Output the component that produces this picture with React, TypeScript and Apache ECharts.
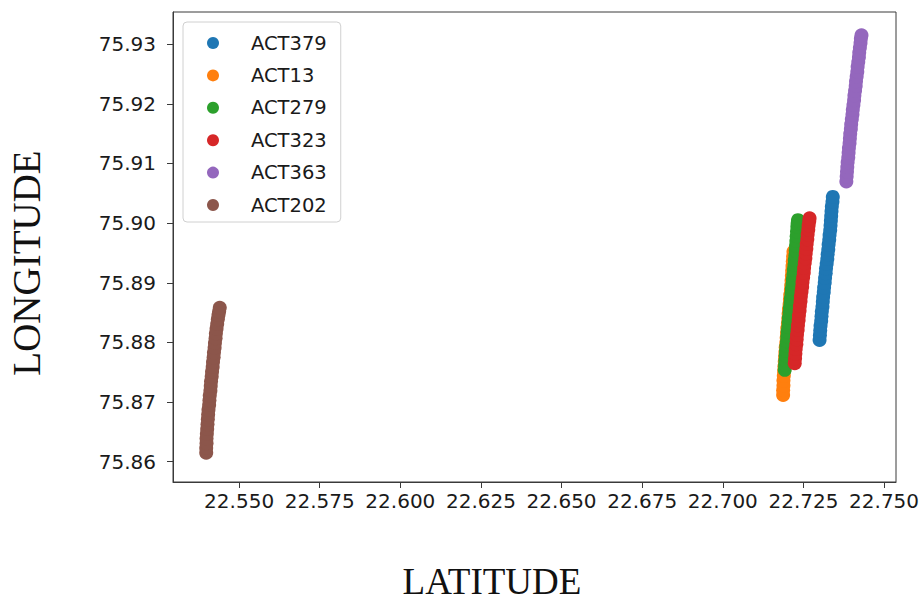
import React, { useEffect, useRef } from "react";
import * as echarts from "echarts";

// Track points per vehicle: [latitude, longitude]
const act379: number[][] = [
  [22.73, 75.8804], [22.7301, 75.8812], [22.7302, 75.882], [22.7303, 75.8828],
  [22.7305, 75.8836], [22.7306, 75.8844], [22.7307, 75.8852], [22.7309, 75.886],
  [22.731, 75.8868], [22.7311, 75.8876], [22.7313, 75.8884], [22.7314, 75.8892],
  [22.7316, 75.89], [22.7317, 75.8908], [22.7319, 75.8916], [22.732, 75.8924],
  [22.7322, 75.8932], [22.7324, 75.894], [22.7325, 75.8948], [22.7327, 75.8956],
  [22.7328, 75.8964], [22.733, 75.8972], [22.7331, 75.898], [22.7333, 75.8988],
  [22.7334, 75.8996], [22.7335, 75.9004], [22.7336, 75.9012], [22.7337, 75.902],
  [22.7338, 75.9028], [22.734, 75.9036], [22.7341, 75.9044],
];
const act13: number[][] = [
  [22.7187, 75.8712], [22.7187, 75.872], [22.7188, 75.8728], [22.7188, 75.8736],
  [22.7189, 75.8744], [22.719, 75.8752], [22.7191, 75.876], [22.7192, 75.8768],
  [22.7193, 75.8776], [22.7194, 75.8784], [22.7195, 75.8792], [22.7197, 75.88],
  [22.7198, 75.8808], [22.7199, 75.8816], [22.72, 75.8824], [22.7202, 75.8832],
  [22.7203, 75.884], [22.7204, 75.8848], [22.7205, 75.8856], [22.7207, 75.8864],
  [22.7208, 75.8872], [22.7209, 75.888], [22.7211, 75.8888], [22.7212, 75.8896],
  [22.7213, 75.8904], [22.7214, 75.8912], [22.7215, 75.892], [22.7216, 75.8928],
  [22.7217, 75.8936], [22.7218, 75.8944], [22.7219, 75.8952],
];
const act279: number[][] = [
  [22.7192, 75.8754], [22.7193, 75.8762], [22.7194, 75.877], [22.7195, 75.8778],
  [22.7196, 75.8786], [22.7197, 75.8794], [22.7199, 75.8802], [22.72, 75.881],
  [22.7201, 75.8818], [22.7203, 75.8826], [22.7204, 75.8834], [22.7205, 75.8842],
  [22.7207, 75.885], [22.7208, 75.8858], [22.721, 75.8866], [22.7211, 75.8874],
  [22.7213, 75.8882], [22.7214, 75.889], [22.7216, 75.8898], [22.7217, 75.8906],
  [22.7219, 75.8914], [22.722, 75.8922], [22.7222, 75.893], [22.7223, 75.8938],
  [22.7225, 75.8946], [22.7226, 75.8954], [22.7227, 75.8962], [22.7228, 75.897],
  [22.7229, 75.8978], [22.723, 75.8986], [22.7231, 75.8994], [22.7232, 75.9],
  [22.7233, 75.9005],
];
const act323: number[][] = [
  [22.7223, 75.8765], [22.7224, 75.8773], [22.7225, 75.8781], [22.7226, 75.8789],
  [22.7228, 75.8797], [22.7229, 75.8805], [22.723, 75.8813], [22.7232, 75.8821],
  [22.7233, 75.8829], [22.7235, 75.8837], [22.7236, 75.8845], [22.7238, 75.8853],
  [22.7239, 75.8861], [22.7241, 75.8869], [22.7242, 75.8877], [22.7244, 75.8885],
  [22.7246, 75.8893], [22.7247, 75.8901], [22.7249, 75.8909], [22.7251, 75.8917],
  [22.7252, 75.8925], [22.7254, 75.8933], [22.7256, 75.8941], [22.7257, 75.8949],
  [22.7259, 75.8957], [22.726, 75.8965], [22.7262, 75.8973], [22.7263, 75.8981],
  [22.7265, 75.8989], [22.7266, 75.8996], [22.7268, 75.9003], [22.7269, 75.9008],
];
const act363: number[][] = [
  [22.7383, 75.907], [22.7384, 75.9078], [22.7385, 75.9086], [22.7386, 75.9094],
  [22.7387, 75.9102], [22.7389, 75.911], [22.739, 75.9118], [22.7391, 75.9126],
  [22.7393, 75.9134], [22.7394, 75.9142], [22.7395, 75.915], [22.7397, 75.9158],
  [22.7398, 75.9166], [22.74, 75.9174], [22.7402, 75.9182], [22.7403, 75.919],
  [22.7405, 75.9198], [22.7407, 75.9206], [22.7408, 75.9214], [22.741, 75.9222],
  [22.7412, 75.923], [22.7413, 75.9238], [22.7415, 75.9246], [22.7417, 75.9254],
  [22.7418, 75.9262], [22.742, 75.927], [22.7422, 75.9278], [22.7423, 75.9286],
  [22.7425, 75.9294], [22.7427, 75.9302], [22.7428, 75.9309], [22.743, 75.9315],
];
const act202: number[][] = [
  [22.5398, 75.8615], [22.5398, 75.8623], [22.5399, 75.8631], [22.5399, 75.8639],
  [22.54, 75.8647], [22.5401, 75.8655], [22.5402, 75.8663], [22.5403, 75.8671],
  [22.5404, 75.8679], [22.5405, 75.8687], [22.5407, 75.8695], [22.5408, 75.8703],
  [22.5409, 75.8711], [22.5411, 75.8719], [22.5412, 75.8727], [22.5413, 75.8735],
  [22.5415, 75.8743], [22.5416, 75.8751], [22.5418, 75.8759], [22.5419, 75.8767],
  [22.5421, 75.8775], [22.5422, 75.8783], [22.5424, 75.8791], [22.5425, 75.8799],
  [22.5427, 75.8807], [22.5428, 75.8815], [22.543, 75.8823], [22.5432, 75.8831],
  [22.5434, 75.8839], [22.5436, 75.8846], [22.5438, 75.8852], [22.544, 75.8858],
];

const seriesNames = ["ACT379", "ACT13", "ACT279", "ACT323", "ACT363", "ACT202"];
const seriesData = [act379, act13, act279, act323, act363, act202];
const colors = ["#1f77b4", "#ff7f0e", "#2ca02c", "#d62728", "#9467bd", "#8c564b"];

const latTicks = [22.55, 22.575, 22.6, 22.625, 22.65, 22.675, 22.7, 22.725, 22.75];
const lonTicks = [75.86, 75.87, 75.88, 75.89, 75.9, 75.91, 75.92, 75.93];

const SANS = "DejaVu Sans";
const SERIF = "Liberation Serif";

export default function App() {
  const ref = useRef<HTMLDivElement>(null);

  useEffect(() => {
    if (!ref.current) return;
    const chart = echarts.init(ref.current, undefined, { renderer: "svg" });
    chart.setOption({
      animation: false,
      backgroundColor: "#ffffff",
      color: colors,
      grid: {
        left: 173,
        right: 28,
        top: 12,
        bottom: 118,
        show: true,
        borderColor: "#3a3a3a",
        borderWidth: 1,
      },
      legend: {
        data: seriesNames,
        orient: "vertical",
        left: 183,
        top: 22,
        padding: [10, 14, 6, 24],
        itemGap: 10.4,
        itemWidth: 66,
        itemHeight: 12,
        icon: "circle",
        backgroundColor: "rgba(255,255,255,0.85)",
        borderColor: "#d0d0d0",
        borderWidth: 1,
        borderRadius: 4,
        textStyle: {
          fontFamily: SANS,
          fontSize: 19.5,
          color: "#1a1a1a",
          lineHeight: 22,
        },
      },
      xAxis: {
        type: "value",
        min: 22.5295,
        max: 22.7537,
        splitLine: { show: false },
        axisLine: { show: true, lineStyle: { color: "#3a3a3a", width: 1 } },
        axisTick: {
          show: true,
          length: 6,
          customValues: latTicks,
          lineStyle: { color: "#3a3a3a" },
        },
        axisLabel: {
          customValues: latTicks,
          margin: 9,
          fontFamily: SANS,
          fontSize: 20,
          color: "#1a1a1a",
          formatter: (v: number) => v.toFixed(3),
        },
      },
      yAxis: {
        type: "value",
        min: 75.8566,
        max: 75.9354,
        splitLine: { show: false },
        axisLine: { show: true, lineStyle: { color: "#3a3a3a", width: 1 } },
        axisTick: {
          show: true,
          length: 6,
          customValues: lonTicks,
          lineStyle: { color: "#3a3a3a" },
        },
        axisLabel: {
          customValues: lonTicks,
          margin: 17,
          fontFamily: SANS,
          fontSize: 20,
          color: "#1a1a1a",
          formatter: (v: number) => v.toFixed(2),
        },
      },
      graphic: [
        {
          type: "text",
          x: 492,
          y: 581,
          style: {
            text: "LATITUDE",
            fontFamily: SERIF,
            fontSize: 37,
            fill: "#111",
            align: "center",
            verticalAlign: "middle",
          },
        },
        {
          type: "text",
          x: 26,
          y: 263,
          rotation: Math.PI / 2,
          style: {
            text: "LONGITUDE",
            fontFamily: SERIF,
            fontSize: 39,
            fill: "#111",
            align: "center",
            verticalAlign: "middle",
          },
        },
      ],
      series: seriesNames.map((name, i) => ({
        name,
        type: "scatter",
        data: seriesData[i],
        symbol: "circle",
        symbolSize: 14,
        itemStyle: { color: colors[i], opacity: 1 },
      })),
    });
    return () => chart.dispose();
  }, []);

  return (
    <div
      ref={ref}
      style={{ position: "fixed", left: 0, top: 0, width: 924, height: 600 }}
    />
  );
}
